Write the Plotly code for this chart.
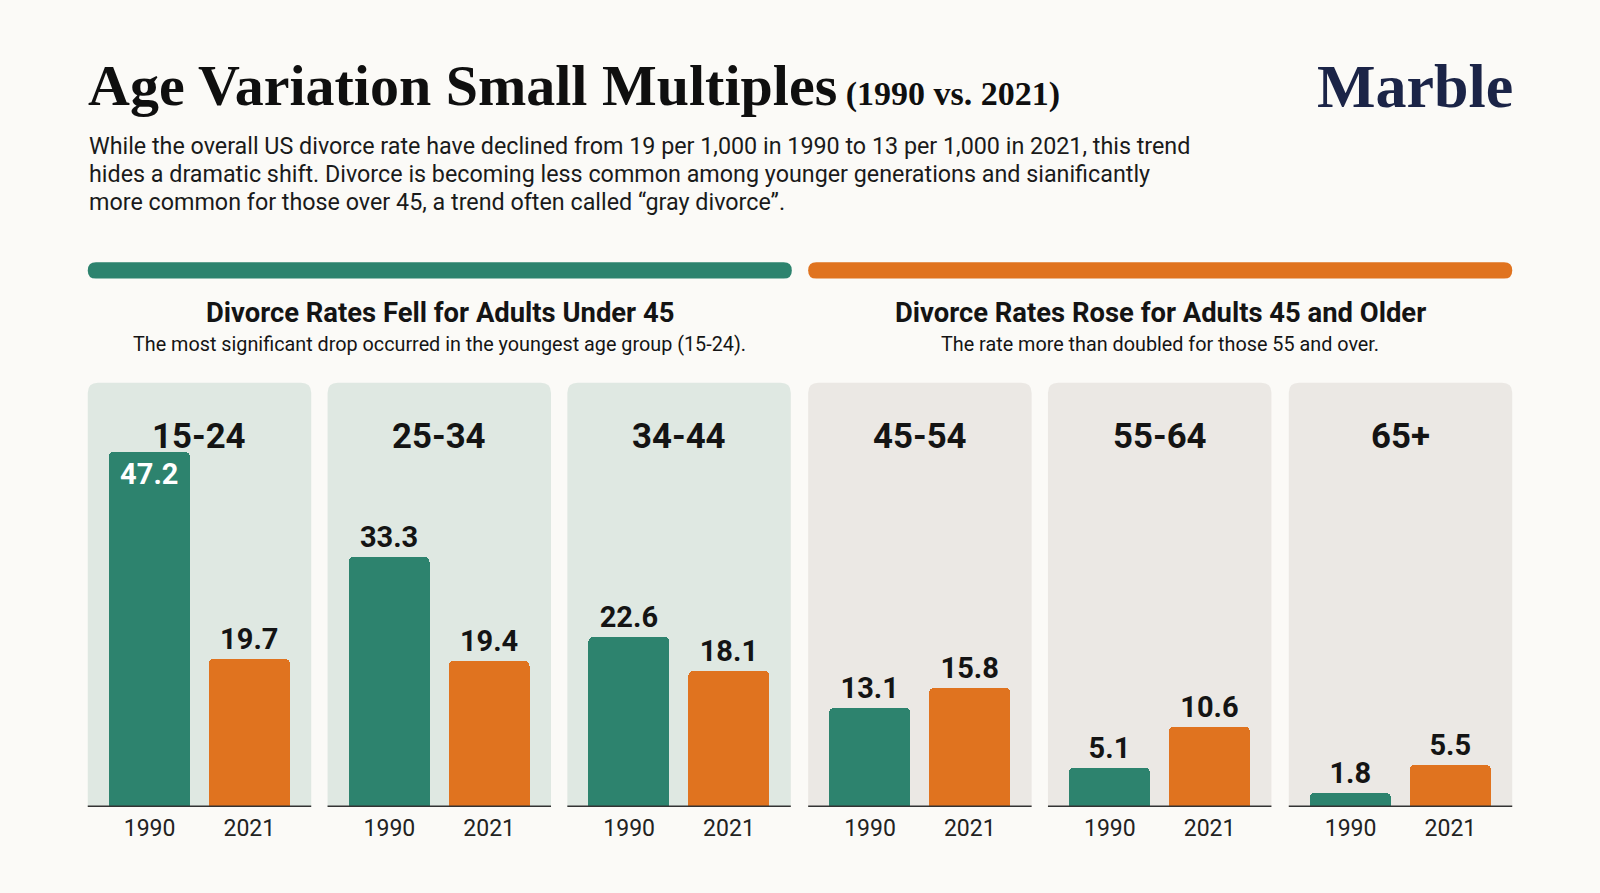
import plotly.graph_objects as go

# Data
age_groups = ['15-24', '25-34', '34-44', '45-54', '55-64', '65+']
years = ['1990', '2021']
rate_1990 = [47.2, 33.3, 22.6, 13.1, 5.1, 1.8]
rate_2021 = [19.7, 19.4, 18.1, 15.8, 10.6, 5.5]

intro_lines = [
    'While the overall US divorce rate have declined from 19 per 1,000 in 1990 to 13 per 1,000 in 2021, this trend',
    'hides a dramatic shift. Divorce is becoming less common among younger generations and sianificantly',
    'more common for those over 45, a trend often called \u201cgray divorce\u201d.',
]

# Colours
GREEN = '#2D836E'
ORANGE = '#E0731F'
BG = '#FBFAF7'
PANEL_LEFT = '#DFE8E2'
PANEL_RIGHT = '#EBE8E4'
INK = '#141414'

W, H = 1600, 893
# layout measured on a 1568 x 875 grid
GW, GH = 1568, 875


def px(x):
    return x / GW


def py(y):
    return 1 - y / GH


def rounded_rect(x0, y0, x1, y1, r, bottom=True):
    # path in paper coords, corners given in grid pixels
    rb = r if bottom else 0
    pts = [
        ('M', x0 + r, y0),
        ('L', x1 - r, y0),
        ('Q', x1, y0, x1, y0 + r),
        ('L', x1, y1 - rb),
        ('Q', x1, y1, x1 - rb, y1),
        ('L', x0 + rb, y1),
        ('Q', x0, y1, x0, y1 - rb),
        ('L', x0, y0 + r),
        ('Q', x0, y0, x0 + r, y0),
    ]
    s = ''
    for p in pts:
        cmd = p[0]
        nums = p[1:]
        coords = []
        for i in range(0, len(nums), 2):
            coords.append('%.5f,%.5f' % (px(nums[i]), py(nums[i + 1])))
        s += cmd + ' '.join(coords) + ' '
    return s + 'Z'


fig = go.Figure()

panel_left = [86, 321, 556, 792, 1027, 1263]
panel_w = 219
panel_top = 375
baseline = 790
y_max = (baseline - panel_top) / 7.35

shapes = []
annotations = []

for i, grp in enumerate(age_groups):
    n = i + 1
    x0 = panel_left[i]
    x1 = x0 + panel_w
    xa = 'x' if n == 1 else 'x%d' % n
    ya = 'y' if n == 1 else 'y%d' % n

    inside = rate_1990[i] > 40
    fig.add_trace(go.Bar(
        x=[0, 1],
        y=[rate_1990[i], rate_2021[i]],
        width=0.81,
        marker=dict(color=[GREEN, ORANGE], cornerradius=5, line=dict(width=0)),
        text=['%.1f' % rate_1990[i], '%.1f' % rate_2021[i]],
        textposition=['inside' if inside else 'outside', 'outside'],
        insidetextanchor='end',
        textfont=dict(family='Roboto', size=29, color=['white' if inside else INK, INK], weight='bold'),
        textangle=0,
        cliponaxis=False,
        xaxis=xa,
        yaxis=ya,
        showlegend=False,
        hoverinfo='skip',
    ))

    fig.layout['xaxis' if n == 1 else 'xaxis%d' % n] = dict(
        domain=[px(x0), px(x1)],
        range=[-0.62, 1.62],
        tickvals=[0, 1],
        ticktext=years,
        tickfont=dict(family='Roboto', size=23, color='#222222'),
        ticklabelstandoff=6,
        showgrid=False,
        zeroline=False,
        showline=False,
        ticks='',
        anchor=ya,
        fixedrange=True,
    )
    fig.layout['yaxis' if n == 1 else 'yaxis%d' % n] = dict(
        domain=[py(baseline), py(panel_top)],
        range=[0, y_max],
        visible=False,
        anchor=xa,
        fixedrange=True,
    )

    # panel background
    shapes.append(dict(
        type='path', xref='paper', yref='paper', layer='below',
        path=rounded_rect(x0, panel_top, x1, baseline, 10, bottom=False),
        fillcolor=PANEL_LEFT if i < 3 else PANEL_RIGHT, line=dict(width=0),
    ))
    # baseline
    shapes.append(dict(
        type='line', xref='paper', yref='paper', layer='above',
        x0=px(x0), x1=px(x1), y0=py(baseline), y1=py(baseline),
        line=dict(color='#333333', width=1.5),
    ))
    # panel title
    annotations.append(dict(
        text='<b>%s</b>' % grp, x=px(x0 + panel_w / 2), y=py(427),
        xref='paper', yref='paper', xanchor='center', yanchor='middle',
        showarrow=False, font=dict(family='Roboto', size=34.8, color=INK),
    ))

# section header bars
shapes.append(dict(type='path', xref='paper', yref='paper',
                   path=rounded_rect(86, 257, 776, 273, 8), fillcolor=GREEN, line=dict(width=0)))
shapes.append(dict(type='path', xref='paper', yref='paper',
                   path=rounded_rect(792, 257, 1482, 273, 8), fillcolor=ORANGE, line=dict(width=0)))

# section titles
sections = [
    (431, 'Divorce Rates Fell for Adults Under 45',
     'The most significant drop occurred in the youngest age group (15-24).'),
    (1137, 'Divorce Rates Rose for Adults 45 and Older',
     'The rate more than doubled for those 55 and over.'),
]
for cx, head, sub in sections:
    annotations.append(dict(
        text='<b>%s</b>' % head, x=px(cx), y=py(307), xref='paper', yref='paper',
        xanchor='center', yanchor='middle', showarrow=False,
        font=dict(family='Roboto', size=27.4, color=INK),
    ))
    annotations.append(dict(
        text=sub, x=px(cx), y=py(338), xref='paper', yref='paper',
        xanchor='center', yanchor='middle', showarrow=False,
        font=dict(family='Roboto', size=19.8, color=INK),
    ))

# main title
annotations.append(dict(
    text='<b>Age Variation Small Multiples</b>'
         '<span style="font-size:34px"><b> (1990 vs. 2021)</b></span>',
    x=px(84), y=py(84), xref='paper', yref='paper', xanchor='left', yanchor='middle',
    showarrow=False, font=dict(family='Liberation Serif', size=58, color='#0F0F0F'),
))
# logo
annotations.append(dict(
    text='<b>Marble</b>', x=px(1485), y=py(84), xref='paper', yref='paper',
    xanchor='right', yanchor='middle', showarrow=False,
    font=dict(family='Liberation Serif', size=62, color='#1B2447'),
))
# intro paragraph, one annotation per line
for k, line in enumerate(intro_lines):
    annotations.append(dict(
        text=line, x=px(85), y=py(143 + 27.5 * k), xref='paper', yref='paper',
        xanchor='left', yanchor='middle', align='left', showarrow=False,
        font=dict(family='Roboto', size=23.3, color='#1A1A1A'),
    ))

fig.update_layout(
    width=W,
    height=H,
    margin=dict(l=0, r=0, t=0, b=0),
    paper_bgcolor=BG,
    plot_bgcolor='rgba(0,0,0,0)',
    shapes=shapes,
    annotations=annotations,
    bargap=0,
    template=None,
)

fig.write_html(
    'out.html',
    config=dict(displayModeBar=False),
    post_script="document.body.style.margin='0';document.body.style.overflow='hidden';",
)
